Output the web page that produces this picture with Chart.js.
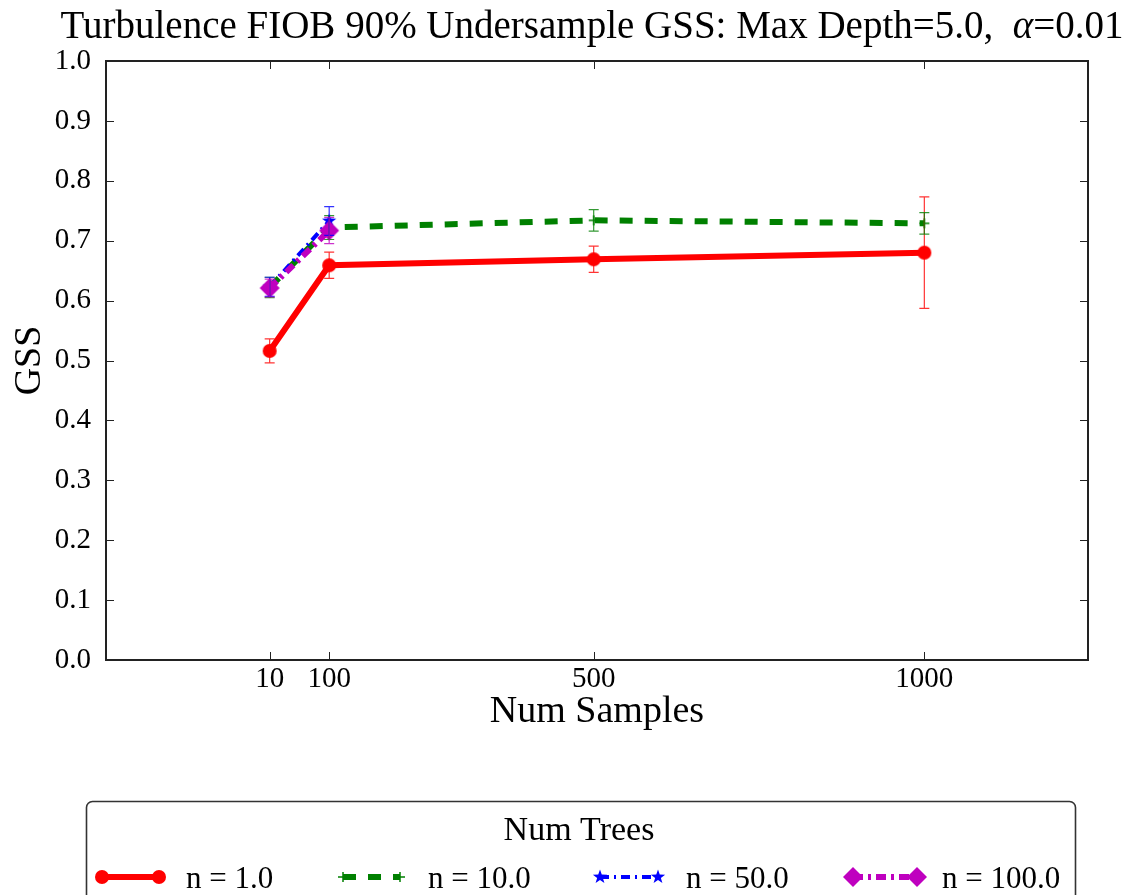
<!DOCTYPE html>
<html lang="en">
  <head>
    <meta charset="UTF-8" />
    <title>Turbulence FIOB 90% Undersample GSS</title>
    <script src="https://cdn.jsdelivr.net/npm/chart.js@4.4.0/dist/chart.umd.min.js"></script>
    <style>
      body {
        margin: 0;
        background: #fff;
      }
      canvas {
        display: block;
      }
    </style>
  </head>
  <body>
    <canvas id="gssChart" width="1132" height="895"></canvas>

    <script>
      // data
      const samples = [10, 100, 500, 1000];
      const yTickValues = [0.0, 0.1, 0.2, 0.3, 0.4, 0.5, 0.6, 0.7, 0.8, 0.9, 1.0];
      const seriesNames = ["n = 1.0", "n = 10.0", "n = 50.0", "n = 100.0"];

      const gssN1 = [0.516, 0.659, 0.669, 0.68];
      const errN1 = [0.02, 0.022, 0.022, 0.093];
      const gssN10 = [0.622, 0.722, 0.734, 0.729];
      const errN10 = [0.017, 0.02, 0.018, 0.018];
      const gssN50 = [0.623, 0.733];
      const errN50 = [0.016, 0.024];
      const gssN100 = [0.621, 0.717];
      const errN100 = [0.015, 0.022];

      const SERIF = '"Liberation Serif", "Times New Roman", serif';
      Chart.defaults.font.family = SERIF;
      Chart.defaults.color = "#000";

      // little canvases used as marker images
      function makeMarker(size, draw) {
        const c = document.createElement("canvas");
        c.width = size;
        c.height = size;
        draw(c.getContext("2d"), size / 2);
        return c;
      }
      const circleRed = makeMarker(16, (g, m) => {
        g.fillStyle = "#ff0000";
        g.beginPath();
        g.arc(m, m, 7, 0, Math.PI * 2);
        g.fill();
      });
      const plusGreen = makeMarker(12, (g, m) => {
        g.strokeStyle = "#008000";
        g.lineWidth = 1.5;
        g.beginPath();
        g.moveTo(1, m);
        g.lineTo(11, m);
        g.moveTo(m, 1);
        g.lineTo(m, 11);
        g.stroke();
      });
      const starBlue = makeMarker(16, (g, m) => {
        g.fillStyle = "#0000ff";
        g.beginPath();
        for (let i = 0; i < 10; i++) {
          const r = i % 2 === 0 ? 7.5 : 3;
          const a = -Math.PI / 2 + (i * Math.PI) / 5;
          g.lineTo(m + r * Math.cos(a), m + r * Math.sin(a));
        }
        g.closePath();
        g.fill();
      });
      const diamondMagenta = makeMarker(22, (g, m) => {
        g.fillStyle = "#bf00bf";
        g.beginPath();
        g.moveTo(m, 1);
        g.lineTo(21, m);
        g.lineTo(m, 21);
        g.lineTo(1, m);
        g.closePath();
        g.fill();
      });

      function points(ys) {
        return ys.map((y, i) => ({ x: samples[i], y: y }));
      }

      // error bars, drawn with the chart's own scales
      const errorBars = {
        id: "errorBars",
        afterDatasetsDraw(chart) {
          const { ctx, scales } = chart;
          chart.data.datasets.forEach((ds) => {
            ctx.save();
            ctx.strokeStyle = ds.errorColor;
            ctx.lineWidth = 1.2;
            ds.data.forEach((p, j) => {
              const e = ds.errors[j];
              const x = scales.x.getPixelForValue(p.x);
              const yTop = scales.y.getPixelForValue(p.y + e);
              const yBot = scales.y.getPixelForValue(p.y - e);
              ctx.beginPath();
              ctx.moveTo(x, yTop);
              ctx.lineTo(x, yBot);
              ctx.moveTo(x - 5, yTop);
              ctx.lineTo(x + 5, yTop);
              ctx.moveTo(x - 5, yBot);
              ctx.lineTo(x + 5, yBot);
              ctx.stroke();
            });
            ctx.restore();
          });
        },
      };

      // box around the plot with inward ticks on every side
      const frame = {
        id: "frame",
        afterDraw(chart) {
          const { ctx, chartArea: a, scales } = chart;
          ctx.save();
          ctx.strokeStyle = "#222";
          ctx.lineWidth = 1;
          ctx.beginPath();
          scales.y.ticks.forEach((t) => {
            const y = Math.round(scales.y.getPixelForValue(t.value)) + 0.5;
            ctx.moveTo(a.left, y);
            ctx.lineTo(a.left + 8, y);
            ctx.moveTo(a.right, y);
            ctx.lineTo(a.right - 8, y);
          });
          scales.x.ticks.forEach((t) => {
            const x = Math.round(scales.x.getPixelForValue(t.value)) + 0.5;
            ctx.moveTo(x, a.bottom);
            ctx.lineTo(x, a.bottom - 8);
            ctx.moveTo(x, a.top);
            ctx.lineTo(x, a.top + 8);
          });
          ctx.stroke();
          ctx.lineWidth = 2;
          ctx.strokeRect(a.left, a.top, a.right - a.left, a.bottom - a.top);
          ctx.restore();
        },
      };

      // title with an italic alpha
      const plotTitle = {
        id: "plotTitle",
        afterDraw(chart) {
          const ctx = chart.ctx;
          const parts = [
            ["Turbulence FIOB 90% Undersample GSS: Max Depth=5.0,  ", "normal"],
            ["\u03b1", "italic"],
            ["=0.01", "normal"],
          ];
          ctx.save();
          ctx.fillStyle = "#000";
          ctx.textBaseline = "alphabetic";
          let total = 0;
          parts.forEach((p) => {
            ctx.font = p[1] + " 39px " + SERIF;
            total += ctx.measureText(p[0]).width;
          });
          let x = 592 - total / 2;
          parts.forEach((p) => {
            ctx.font = p[1] + " 39px " + SERIF;
            ctx.fillText(p[0], x, 38);
            x += ctx.measureText(p[0]).width;
          });
          ctx.restore();
        },
      };

      // matplotlib style legend under the axes
      const bottomLegend = {
        id: "bottomLegend",
        afterDraw(chart) {
          const ctx = chart.ctx;
          const slots = [
            { x0: 102, x1: 159, tx: 186 },
            { x0: 343, x1: 400, tx: 428 },
            { x0: 600, x1: 658, tx: 686 },
            { x0: 853, x1: 917, tx: 942 },
          ];
          ctx.save();
          ctx.fillStyle = "#fff";
          ctx.strokeStyle = "#333";
          ctx.lineWidth = 1.6;
          ctx.beginPath();
          ctx.roundRect(86.5, 801.5, 989, 130, 6);
          ctx.fill();
          ctx.stroke();

          ctx.fillStyle = "#000";
          ctx.textAlign = "center";
          ctx.textBaseline = "alphabetic";
          ctx.font = "34px " + SERIF;
          ctx.fillText("Num Trees", 579, 840);

          const yMid = 877;
          chart.data.datasets.forEach((ds, i) => {
            const s = slots[i];
            ctx.strokeStyle = ds.borderColor;
            ctx.lineWidth = ds.borderWidth;
            ctx.lineCap = "butt";
            ctx.setLineDash(ds.borderDash || []);
            ctx.beginPath();
            ctx.moveTo(s.x0, yMid);
            ctx.lineTo(s.x1, yMid);
            ctx.stroke();
            ctx.setLineDash([]);
            const m = ds.pointStyle;
            ctx.drawImage(m, s.x0 - m.width / 2, yMid - m.height / 2);
            ctx.drawImage(m, s.x1 - m.width / 2, yMid - m.height / 2);
            ctx.fillStyle = "#000";
            ctx.textAlign = "left";
            ctx.font = "31px " + SERIF;
            ctx.fillText(ds.label, s.tx, 888);
          });
          ctx.restore();
        },
      };

      new Chart(document.getElementById("gssChart"), {
        type: "line",
        data: {
          datasets: [
            {
              label: seriesNames[0],
              data: points(gssN1),
              errors: errN1,
              errorColor: "rgba(255, 0, 0, 0.8)",
              borderColor: "#ff0000",
              borderWidth: 6,
              pointStyle: circleRed,
              pointRadius: 6,
              order: 4,
            },
            {
              label: seriesNames[1],
              data: points(gssN10),
              errors: errN10,
              errorColor: "rgba(0, 128, 0, 0.8)",
              borderColor: "#008000",
              borderWidth: 6,
              borderDash: [13, 12],
              pointStyle: plusGreen,
              pointRadius: 6,
              order: 3,
            },
            {
              label: seriesNames[2],
              data: points(gssN50),
              errors: errN50,
              errorColor: "rgba(0, 0, 255, 0.8)",
              borderColor: "#0000ff",
              borderWidth: 4,
              borderDash: [9, 5, 2, 5],
              pointStyle: starBlue,
              pointRadius: 6,
              order: 2,
            },
            {
              label: seriesNames[3],
              data: points(gssN100),
              errors: errN100,
              errorColor: "rgba(191, 0, 191, 0.8)",
              borderColor: "#bf00bf",
              borderWidth: 6,
              borderDash: [10, 5, 3, 5],
              pointStyle: diamondMagenta,
              pointRadius: 6,
              order: 1,
            },
          ],
        },
        options: {
          responsive: false,
          animation: false,
          events: [],
          elements: {
            line: { tension: 0, borderCapStyle: "butt", fill: false },
          },
          layout: {
            padding: { top: 61, right: 44, bottom: 0, left: 0 },
          },
          plugins: {
            legend: { display: false },
            title: { display: false },
            tooltip: { enabled: false },
          },
          scales: {
            x: {
              type: "linear",
              min: -237.5,
              max: 1247.5,
              afterBuildTicks: (s) => {
                s.ticks = samples.map((v) => ({ value: v }));
              },
              afterFit: (s) => {
                s.height = 235;
              },
              ticks: {
                callback: (v) => String(v),
                font: { size: 29 },
                color: "#000",
                padding: 2,
                maxRotation: 0,
                autoSkip: false,
              },
              grid: { display: false, drawTicks: false },
              border: { display: false },
              title: {
                display: true,
                text: "Num Samples",
                font: { size: 38 },
                color: "#000",
                padding: { top: 0, bottom: 160 },
              },
            },
            y: {
              min: 0,
              max: 1,
              afterBuildTicks: (s) => {
                s.ticks = yTickValues.map((v) => ({ value: v }));
              },
              afterFit: (s) => {
                s.width = 106;
              },
              ticks: {
                callback: (v) => v.toFixed(1),
                font: { size: 29 },
                color: "#000",
                padding: 15,
                autoSkip: false,
              },
              grid: { display: false, drawTicks: false },
              border: { display: false },
              title: {
                display: true,
                text: "GSS",
                font: { size: 38 },
                color: "#000",
                padding: { top: 7, bottom: 0 },
              },
            },
          },
        },
        plugins: [errorBars, frame, plotTitle, bottomLegend],
      });
    </script>
  </body>
</html>
